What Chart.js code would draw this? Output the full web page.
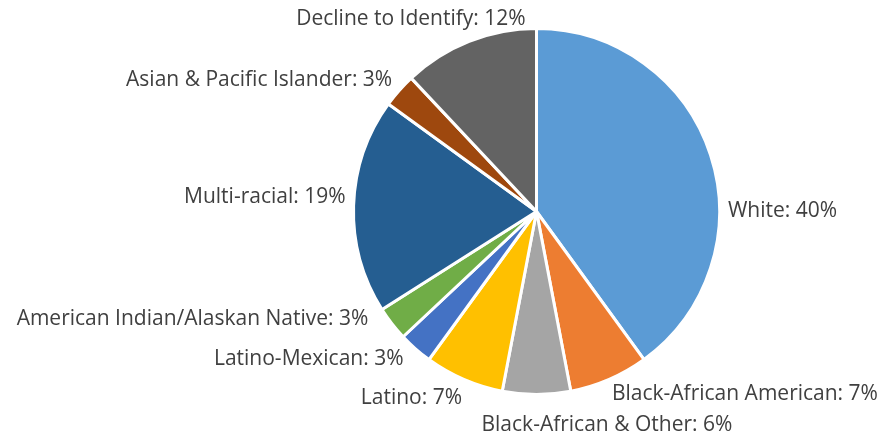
<!DOCTYPE html>
<html>
<head>
<meta charset="utf-8">
<script src="https://cdn.jsdelivr.net/npm/chart.js@4"></script>
<style>
  html, body { margin: 0; padding: 0; background: #fff; }
  #wrap { width: 880px; height: 437px; }
</style>
</head>
<body>
<div id="wrap"><canvas id="pie" width="880" height="437"></canvas></div>
<script>
const categories = [
  "White",
  "Black-African American",
  "Black-African & Other",
  "Latino",
  "Latino-Mexican",
  "American Indian/Alaskan Native",
  "Multi-racial",
  "Asian & Pacific Islander",
  "Decline to Identify"
];
const shares = [40, 7, 6, 7, 3, 3, 19, 3, 12];
const sliceColors = [
  "#5B9BD5", "#ED7D31", "#A5A5A5", "#FFC000", "#4472C4",
  "#70AD47", "#255E91", "#9E480E", "#636363"
];
// fine nudges for each label away from its slice's mid-angle anchor
const labelNudge = [
  [6, 60], [-2, 4], [-55, 19], [3, 8], [-4, 1],
  [-14, -12], [4, -8], [2, -3], [61, -11]
];

const outsideLabels = {
  id: "outsideLabels",
  afterDatasetsDraw(chart) {
    const ctx = chart.ctx;
    const arcs = chart.getDatasetMeta(0).data;
    ctx.save();
    ctx.font = "21px 'Open Sans'";
    ctx.fillStyle = "#404040";
    ctx.textBaseline = "middle";
    arcs.forEach((arc, i) => {
      const p = arc.getProps(["x", "y", "startAngle", "endAngle", "outerRadius"], true);
      const mid = (p.startAngle + p.endAngle) / 2;
      const dx = Math.cos(mid), dy = Math.sin(mid);
      const r = p.outerRadius + 12;
      ctx.textAlign = dx > -0.01 ? "left" : "right";
      const x = p.x + dx * r + labelNudge[i][0];
      const y = p.y + dy * r + labelNudge[i][1];
      ctx.fillText(categories[i] + ": " + shares[i] + "%", x, y);
    });
    ctx.restore();
  }
};

new Chart(document.getElementById("pie"), {
  type: "pie",
  data: {
    labels: categories,
    datasets: [{
      data: shares,
      backgroundColor: sliceColors,
      borderColor: "#ffffff",
      borderWidth: 3
    }]
  },
  options: {
    responsive: false,
    animation: false,
    layout: { padding: { top: 27, bottom: 41, left: 352, right: 159 } },
    plugins: {
      legend: { display: false },
      tooltip: { enabled: false }
    }
  },
  plugins: [outsideLabels]
});
</script>
</body>
</html>
